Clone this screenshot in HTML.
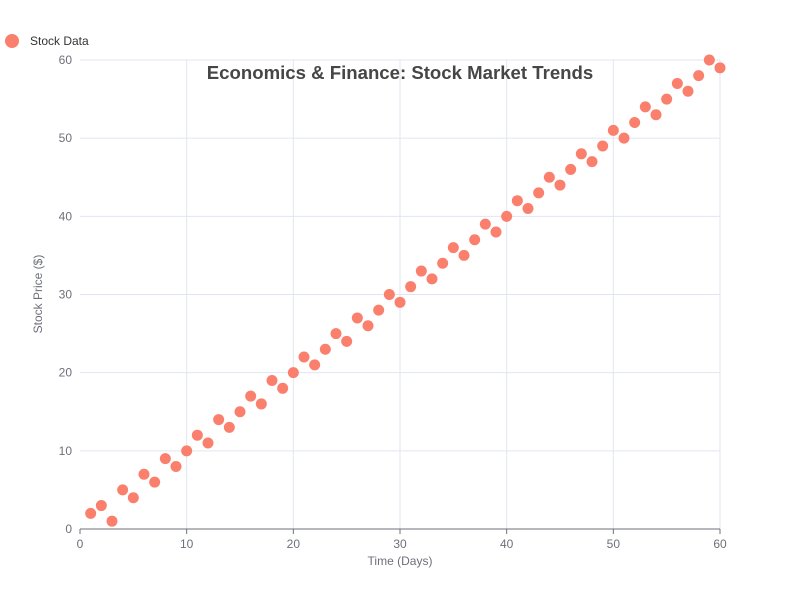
<!DOCTYPE html>
<html><head><meta charset="utf-8"><style>
body{margin:0;background:#fff;font-family:"Liberation Sans",sans-serif}
svg{display:block}
</style></head><body>
<svg id="chart" width="800" height="600" xmlns="http://www.w3.org/2000/svg">
<g id="grid"></g>
<g id="axes"></g>
<g id="points"></g>
<text x="400" y="79" text-anchor="middle" font-size="18.6" font-weight="bold" fill="#464646">Economics &amp; Finance: Stock Market Trends</text>
<g>
<circle cx="12" cy="41" r="7" fill="#fa7f6c"></circle>
<text x="30" y="45" font-size="12" fill="#333">Stock Data</text>
</g>
<text x="400" y="565" text-anchor="middle" font-size="12" fill="#6e7079">Time (Days)</text>
<text transform="translate(42,294) rotate(-90)" text-anchor="middle" font-size="12" fill="#6e7079">Stock Price ($)</text>
</svg>
<script>
const days = [];
for (let i = 1; i <= 60; i++) days.push(i);
const prices = [2,3,1,5,4,7,6,9,8,10,12,11,14,13,15,17,16,19,18,20,22,21,23,25,24,27,26,28,30,29,31,33,32,34,36,35,37,39,38,40,42,41,43,45,44,46,48,47,49,51,50,52,54,53,55,57,56,58,60,59];
const xTicks = [0,10,20,30,40,50,60];
const yTicks = [0,10,20,30,40,50,60];
const X0=80,X1=720,Y0=529,Y1=60;
const xs=v=>X0+(v-0)/60*(X1-X0);
const ys=v=>Y0-(v-0)/60*(Y0-Y1);
const NS="http://www.w3.org/2000/svg";
function mk(tag,attrs,parent){const e=document.createElementNS(NS,tag);for(const k in attrs)e.setAttribute(k,attrs[k]);parent.appendChild(e);return e;}
const grid=document.getElementById('grid'),axes=document.getElementById('axes'),pts=document.getElementById('points');
xTicks.forEach(t=>{
  if(t>0){const l=mk('line',{x1:xs(t),x2:xs(t),y1:Y1,y2:Y0,stroke:'#e0e6f1'},grid);
  
  }
  const tk=mk('line',{x1:xs(t),x2:xs(t),y1:Y0,y2:Y0+5,stroke:'#6e7079'},axes);
  
  
  const tx=mk('text',{x:xs(t),y:Y0+19,'text-anchor':'middle','font-size':12,fill:'#6e7079'},axes);
  tx.textContent=t;
  
  
});
yTicks.forEach(t=>{
  if(t>0){const l=mk('line',{x1:X0,x2:X1,y1:ys(t),y2:ys(t),stroke:'#e0e6f1'},grid);
  
  }
  const tx=mk('text',{x:X0-8,y:ys(t)+4,'text-anchor':'end','font-size':12,fill:'#6e7079'},axes);
  tx.textContent=t;
  
  
});
const xa=mk('line',{x1:X0,x2:X1,y1:Y0,y2:Y0,stroke:'#6e7079'},axes);


days.forEach((d,i)=>{
  const c=mk('circle',{cx:xs(d),cy:ys(prices[i]),r:5.5,fill:'#fa7f6c'},pts);
  
  
});
</script>
</body></html>
